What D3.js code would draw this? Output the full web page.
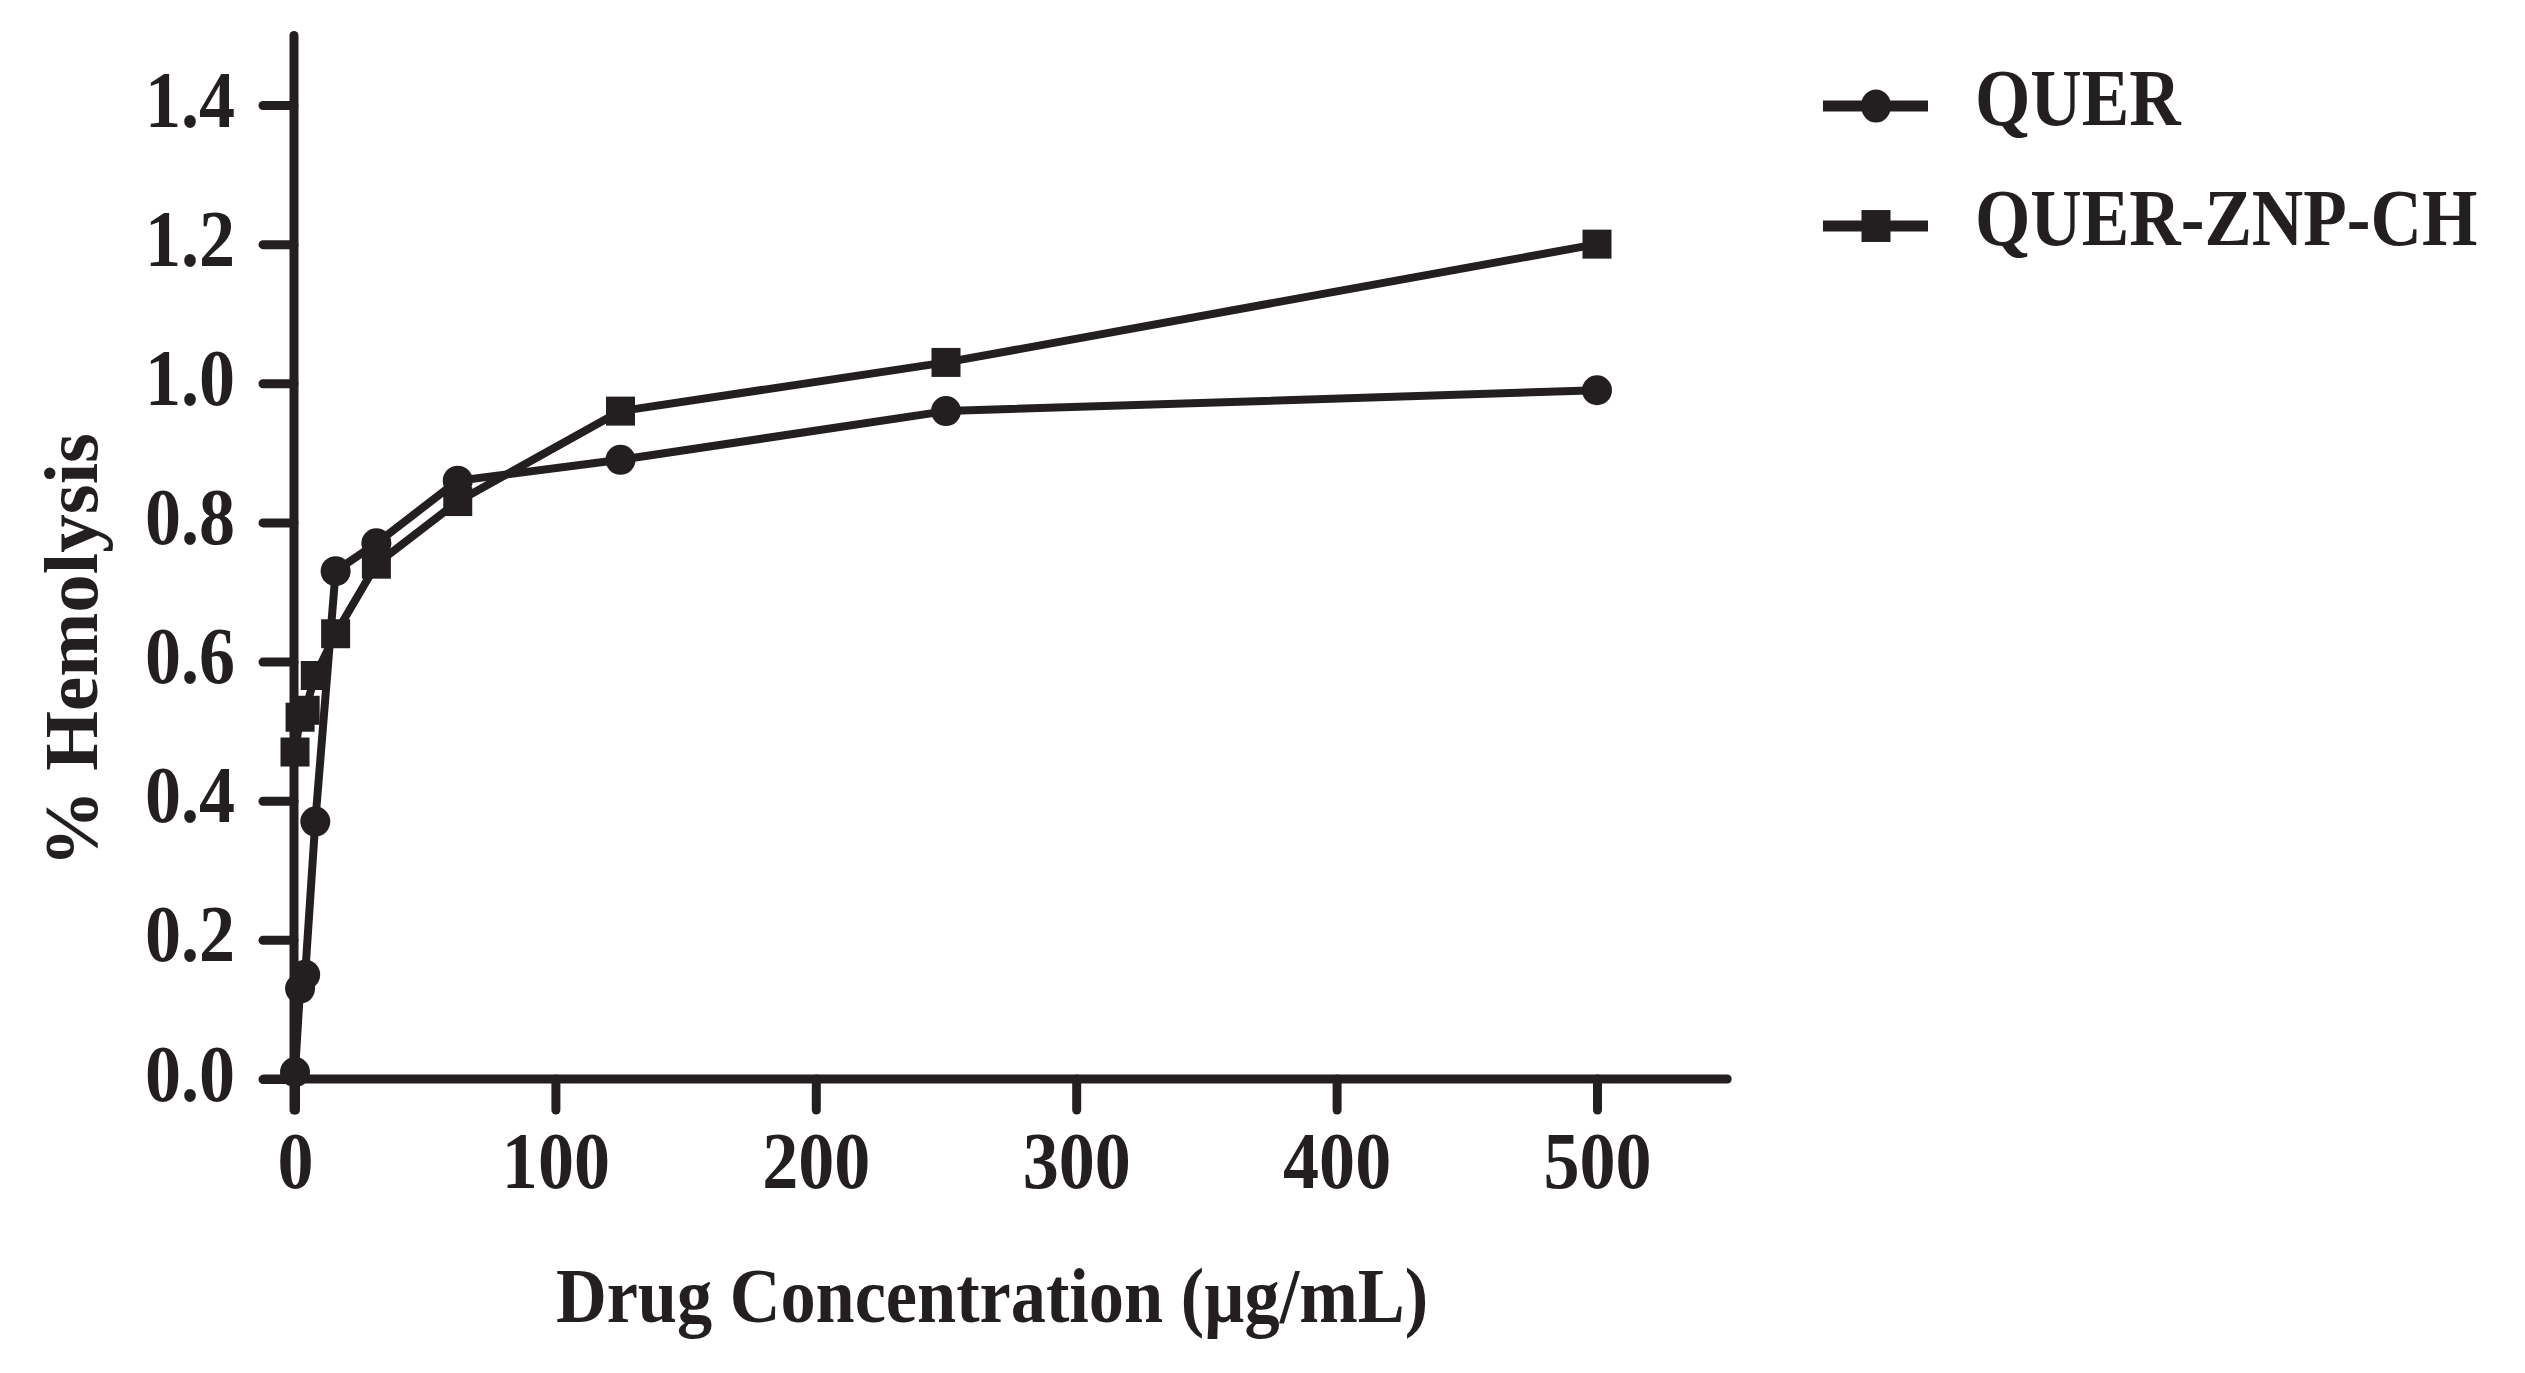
<!DOCTYPE html>
<html>
<head>
<meta charset="utf-8">
<script src="https://cdn.jsdelivr.net/npm/d3@7"></script>
<style>
  body { margin: 0; background: #fff; }
  text { font-family: "Liberation Serif", "Times New Roman", serif; font-weight: bold; fill: #231f20; }
</style>
</head>
<body>
<script>
// drug concentration (ug/mL)
var concentrations = [0, 1.95, 3.9, 7.8, 15.6, 31.25, 62.5, 125, 250, 500];
var querValues = [0.01, 0.13, 0.15, 0.37, 0.73, 0.77, 0.86, 0.89, 0.96, 0.99];
var znpValues = [0.47, 0.52, 0.53, 0.58, 0.64, 0.74, 0.83, 0.96, 1.03, 1.20];
var seriesNames = ['QUER', 'QUER-ZNP-CH'];
var xTicks = [0, 100, 200, 300, 400, 500];
var yTicks = [0, 0.2, 0.4, 0.6, 0.8, 1.0, 1.2, 1.4];

var ink = '#231f20';
var squeeze = 0.89;

var svg = d3.select('body').append('svg')
  .attr('width', 2525)
  .attr('height', 1373);

svg.append('rect').attr('width', 2525).attr('height', 1373).attr('fill', '#fff');

var x = d3.scaleLinear().domain([0, 500]).range([295, 1597]);
var y = d3.scaleLinear().domain([0, 1.4]).range([1079, 105]);

var tickLen = 31;

// axis lines, extended past the origin like the original
svg.append('line')
  .attr('x1', x(0) - 1).attr('x2', x(0) - 1)
  .attr('y1', y(1.5)).attr('y2', y(0) + tickLen)
  .attr('stroke', ink).attr('stroke-width', 9).attr('stroke-linecap', 'round');

svg.append('line')
  .attr('x1', x(0) - tickLen).attr('x2', x(550))
  .attr('y1', y(0)).attr('y2', y(0))
  .attr('stroke', ink).attr('stroke-width', 9).attr('stroke-linecap', 'round');

var yAxis = svg.append('g')
  .attr('transform', 'translate(' + (x(0) - 1) + ',0)')
  .call(d3.axisLeft(y).tickValues(yTicks).tickFormat(d3.format('.1f')).tickSize(tickLen).tickPadding(28));
yAxis.select('.domain').remove();
yAxis.selectAll('line').attr('stroke', ink).attr('stroke-width', 9).attr('stroke-linecap', 'round');
yAxis.selectAll('text')
  .classed('cond', true)
  .attr('dy', null).attr('y', 21)
  .attr('font-size', 81)
  .attr('fill', ink);

var xAxis = svg.append('g')
  .attr('transform', 'translate(0,' + y(0) + ')')
  .call(d3.axisBottom(x).tickValues(xTicks).tickFormat(d3.format('d')).tickSize(tickLen));
xAxis.select('.domain').remove();
xAxis.selectAll('line').attr('stroke', ink).attr('stroke-width', 9).attr('stroke-linecap', 'round');
xAxis.selectAll('text')
  .classed('cond', true)
  .attr('dy', null).attr('y', 109)
  .attr('font-size', 81)
  .attr('fill', ink);
yAxis.attr('font-family', null).attr('font-size', null);
xAxis.attr('font-family', null).attr('font-size', null);

// axis titles
svg.append('text')
  .classed('cond', true)
  .attr('x', 992).attr('y', 1322)
  .attr('text-anchor', 'middle')
  .attr('font-size', 79)
  .text('Drug Concentration (\u00b5g/mL)');

svg.append('text')
  .attr('transform', 'translate(97,650) rotate(-90)')
  .attr('text-anchor', 'middle')
  .attr('font-size', 77)
  .text('% Hemolysis');

// series
var series = [
  { name: seriesNames[0], values: querValues, shape: 'circle' },
  { name: seriesNames[1], values: znpValues, shape: 'square' }
];

var line = d3.line()
  .x(function (d) { return x(d[0]); })
  .y(function (d) { return y(d[1]); });

var circleSym = d3.symbol().type(d3.symbolCircle).size(Math.PI * 15 * 15);
var squareSym = d3.symbol().type(d3.symbolSquare).size(29 * 29);

series.forEach(function (s) {
  var pts = concentrations.map(function (c, i) { return [c, s.values[i]]; });
  svg.append('path')
    .datum(pts)
    .attr('fill', 'none')
    .attr('stroke', ink)
    .attr('stroke-width', 8)
    .attr('stroke-linejoin', 'round')
    .attr('d', line);
});

series.forEach(function (s) {
  var pts = concentrations.map(function (c, i) { return [c, s.values[i]]; });
  svg.append('g')
    .selectAll('path')
    .data(pts)
    .enter().append('path')
    .attr('transform', function (d) { return 'translate(' + x(d[0]) + ',' + y(d[1]) + ')'; })
    .attr('d', s.shape == 'circle' ? circleSym : squareSym)
    .attr('fill', ink);
});

// legend
var legend = svg.append('g')
  .selectAll('g')
  .data(series)
  .enter().append('g')
  .attr('transform', function (d, i) { return 'translate(0,' + (106 + i * 120) + ')'; });

legend.append('line')
  .attr('x1', 1823).attr('x2', 1928)
  .attr('stroke', ink).attr('stroke-width', 11);

legend.append('path')
  .attr('transform', 'translate(1876,0) scale(1,1.1)')
  .attr('d', function (d) { return d.shape == 'circle' ? circleSym() : squareSym(); })
  .attr('fill', ink);

legend.append('text')
  .classed('cond', true)
  .attr('x', 1975).attr('y', 19)
  .attr('font-size', 80)
  .text(function (d) { return d.name; });

// the original lettering is horizontally condensed
d3.selectAll('text.cond').each(function () {
  var t = d3.select(this);
  var tx = +t.attr('x') || 0, ty = +t.attr('y') || 0;
  t.attr('x', 0).attr('y', 0)
    .attr('transform', 'translate(' + tx + ',' + ty + ') scale(' + squeeze + ',1)');
});
</script>
</body>
</html>
